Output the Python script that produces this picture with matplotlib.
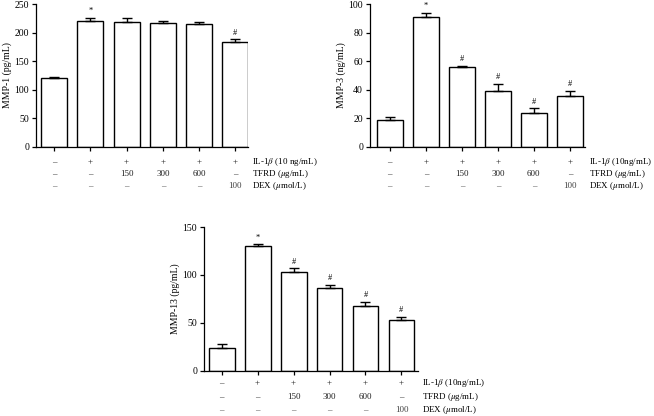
import matplotlib
matplotlib.use("Agg")
import matplotlib.pyplot as plt
import numpy as np

plt.rcParams['font.family'] = ['Liberation Serif', 'DejaVu Serif']
plt.rcParams['mathtext.fontset'] = 'stix'

# ---- data ----
il1b_row = ["–", "+", "+", "+", "+", "+"]
tfrd_row = ["–", "–", "150", "300", "600", "–"]
dex_row = ["–", "–", "–", "–", "–", "100"]

mmp1_vals = [120, 221, 218, 217, 215, 183]
mmp1_err = [2, 5, 7, 4, 4, 5]
mmp1_marks = ["", "*", "", "", "", "#"]

mmp3_vals = [19, 91, 56, 39.5, 24, 36]
mmp3_err = [2, 3, 0.5, 4.5, 3, 3]
mmp3_marks = ["", "*", "#", "#", "#", "#"]

mmp13_vals = [24, 130, 103.5, 86.5, 68, 53]
mmp13_err = [4, 2, 3.5, 3, 4, 3]
mmp13_marks = ["", "*", "#", "#", "#", "#"]

W, H = 654, 416
fig = plt.figure(figsize=(W / 100, H / 100), dpi=100)


def panel(left, right, top, bottom, vals, errs, marks, ymax, ystep, ylabel,
          il_label, rows_dy, xlim):
    ax = fig.add_axes([left / W, 1 - bottom / H, (right - left) / W, (bottom - top) / H])
    x = np.arange(len(vals))
    ax.bar(x, vals, width=0.72, color='white', edgecolor='black', linewidth=1.0, zorder=2)
    ax.errorbar(x, vals, yerr=[np.zeros(len(vals)), errs], fmt='none', ecolor='black',
                elinewidth=1.0, capsize=3.5, capthick=1.0, zorder=3)
    for xi, v, e, m in zip(x, vals, errs, marks):
        if m:
            ax.annotate(m, xy=(xi, v + e), xytext=(0, 2), textcoords='offset points',
                        ha='center', va='bottom', fontsize=6)
    ax.set_ylim(0, ymax)
    ax.set_xlim(*xlim)
    ax.set_yticks(np.arange(0, ymax + 0.1, ystep))
    ax.set_xticks(x)
    ax.set_xticklabels([])
    ax.tick_params(axis='both', labelsize=7, length=3, width=0.9, direction='out', pad=2)
    for s in ['top', 'right']:
        ax.spines[s].set_visible(False)
    for s in ['left', 'bottom']:
        ax.spines[s].set_linewidth(0.9)
    ax.set_ylabel(ylabel, fontsize=7, labelpad=2)
    rows = [il1b_row, tfrd_row, dex_row]
    names = [il_label, "TFRD ($\\mu$g/mL)", "DEX ($\\mu$mol/L)"]
    for r, (row, name, dy) in enumerate(zip(rows, names, rows_dy)):
        for xi, t in zip(x, row):
            ax.annotate(t, xy=(xi, 0), xycoords=('data', 'axes fraction'),
                        xytext=(0, -dy * 0.72), textcoords='offset points',
                        ha='center', va='center', fontsize=6.5,
                        color='#222222' if r < 2 else '#444444')
        ax.annotate(name, xy=(1, 0), xycoords='axes fraction',
                    xytext=(3, -dy * 0.72), textcoords='offset points',
                    ha='left', va='center', fontsize=6.5)
    return ax


panel(36, 248, 4, 147, mmp1_vals, mmp1_err, mmp1_marks, 250, 50, "MMP-1 (pg/mL)",
      "IL-1$\\beta$ (10 ng/mL)", [15, 27, 39], (-0.5, 5.35))
panel(370, 585, 4, 147, mmp3_vals, mmp3_err, mmp3_marks, 100, 20, "MMP-3 (ng/mL)",
      "IL-1$\\beta$ (10ng/mL)", [15, 27, 39], (-0.55, 5.42))
panel(204, 418, 227, 371, mmp13_vals, mmp13_err, mmp13_marks, 150, 50, "MMP-13 (pg/mL)",
      "IL-1$\\beta$ (10ng/mL)", [12, 26, 39], (-0.49, 5.46))

fig.savefig("out.png", dpi=100)
